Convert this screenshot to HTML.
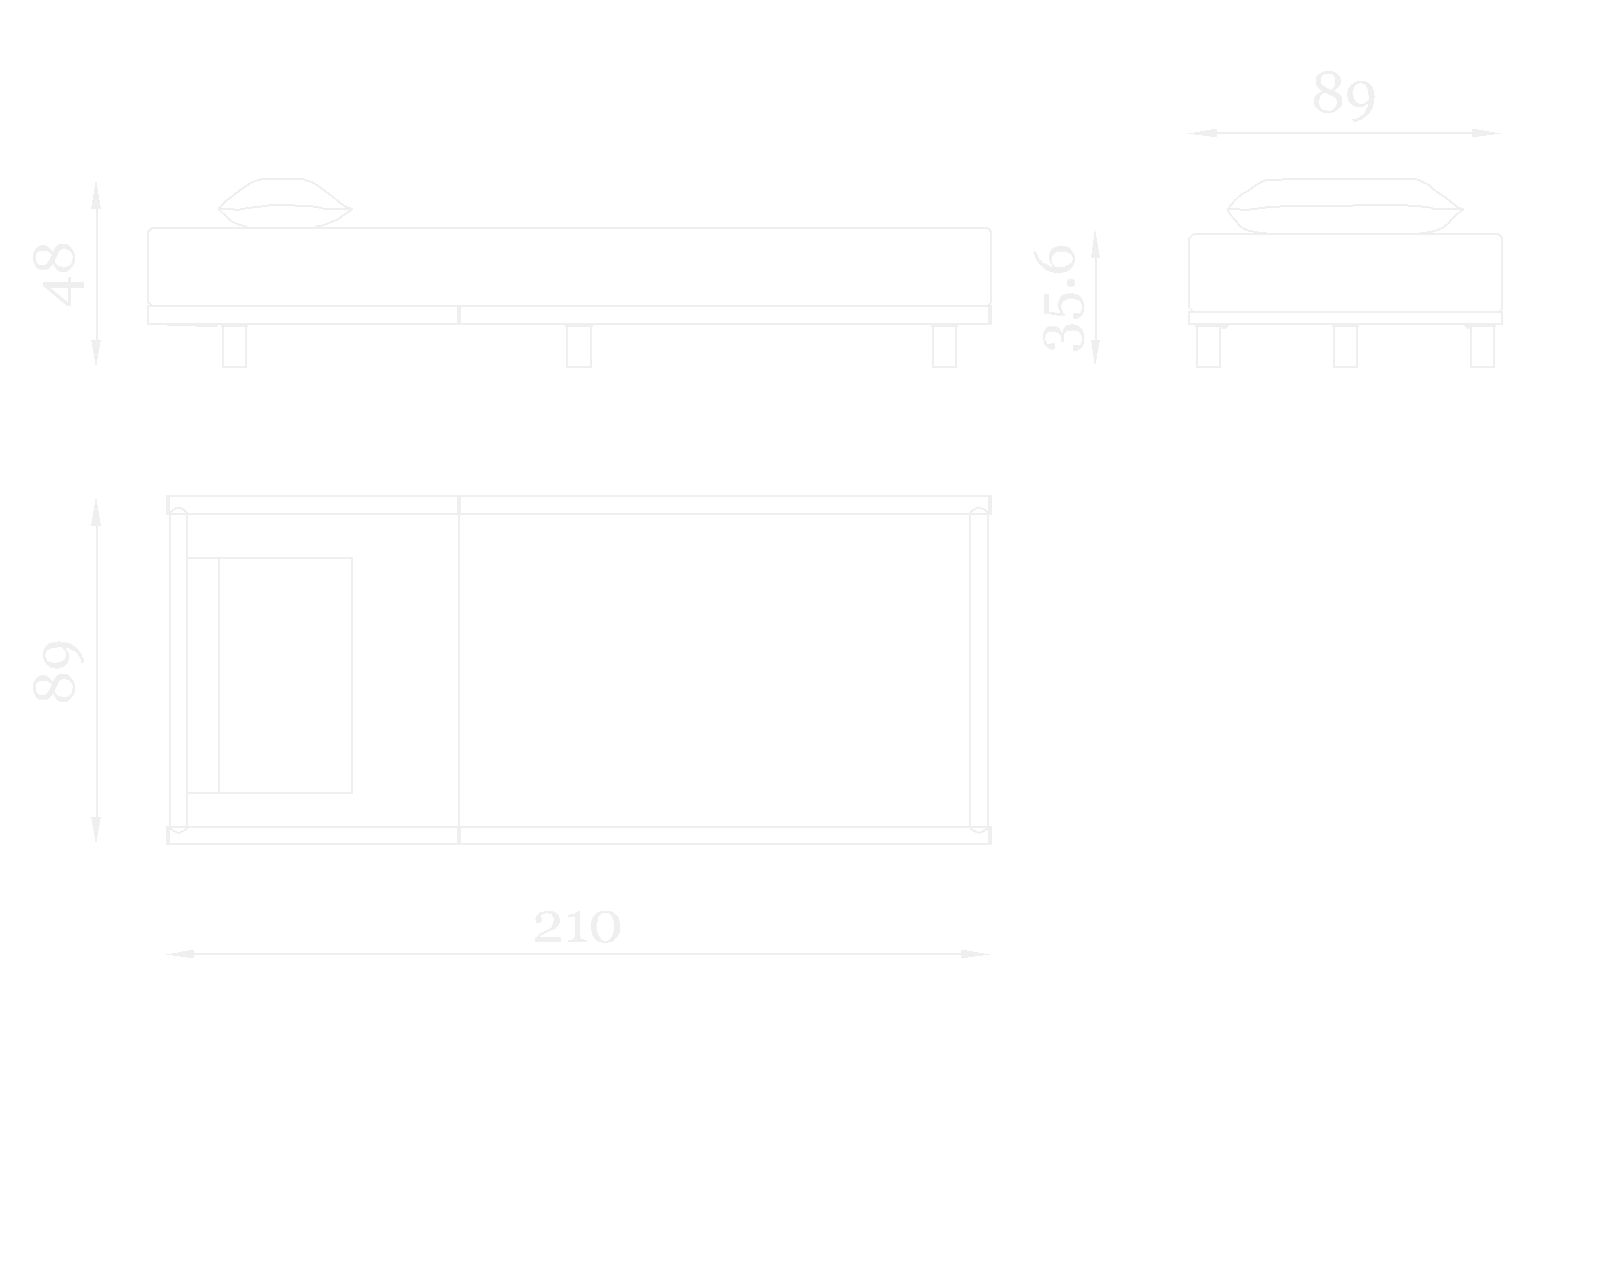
<!DOCTYPE html>
<html><head><meta charset="utf-8"><title>Bed dimensions</title>
<style>
html,body{margin:0;padding:0;background:#ffffff;}
body{width:1600px;height:1280px;overflow:hidden;font-family:"Liberation Serif",serif;}
svg{display:block;position:absolute;left:0;top:0;}
</style></head><body>
<svg width="1600" height="1280" viewBox="0 0 1600 1280">
<g fill="none" stroke="#efefef" stroke-width="2" stroke-linejoin="round" stroke-linecap="butt" shape-rendering="crispEdges">
<path d="M152 228 H985 Q991 228 991 234 V300 Q991 306 985 306 H152 L148 302 V232 Z" stroke-width="2" />
<path d="M147 305H992V307H147ZM147 323H992V325H147ZM147 305H149V325H147ZM988 305H992V325H988ZM457 305H461V325H457ZM167 325H218V326H167ZM196 326H217V327H196ZM221 325H248V327H221ZM222 327H224V368H222ZM245 327H247V368H245ZM224 366H245V368H224ZM565 325H593V327H565ZM566 327H568V368H566ZM590 327H592V368H590ZM568 366H590V368H568ZM931 325H958V327H931ZM932 327H934V368H932ZM955 327H957V368H955ZM934 366H955V368H934Z" fill="#efefef" stroke="none"/>
<path d="M218.27 208.88 C218.77 208.44 220.05 207.43 221.25 206.22 C222.45 205.02 223.73 203.25 225.50 201.66 C227.27 200.06 229.75 198.34 231.87 196.66 C234.00 194.98 235.95 193.30 238.25 191.56 C240.55 189.83 243.21 187.84 245.69 186.25 C248.17 184.66 250.82 183.06 253.12 182.00 C255.43 180.94 257.55 180.37 259.50 179.87 C261.45 179.38 258.17 179.17 264.81 179.02 C271.45 178.88 292.44 178.79 299.34 179.02 C306.25 179.25 304.03 179.82 306.25 180.41 C308.46 180.99 310.85 181.77 312.62 182.53 C314.39 183.29 315.28 183.91 316.87 184.97 C318.47 186.04 320.41 187.60 322.18 188.91 C323.96 190.22 325.73 191.51 327.50 192.84 C329.27 194.16 331.04 195.49 332.81 196.87 C334.58 198.26 336.53 199.85 338.12 201.12 C339.72 202.40 340.95 203.55 342.37 204.52 C343.79 205.50 344.89 206.21 346.62 206.97 C348.36 207.73 351.76 208.74 352.78 209.09" stroke-width="2" />
<path d="M218.27 208.88 C218.77 209.36 220.05 210.60 221.25 211.75 C222.45 212.90 223.91 214.28 225.50 215.79 C227.09 217.29 229.04 219.50 230.81 220.78 C232.58 222.05 233.64 222.46 236.12 223.44 C238.60 224.41 242.68 225.88 245.69 226.62 C248.70 227.37 243.74 227.69 254.19 227.90 C264.63 228.11 297.92 228.11 308.37 227.90 C318.82 227.69 314.04 227.19 316.87 226.62 C319.71 226.06 322.72 225.38 325.37 224.50 C328.03 223.61 330.86 222.11 332.81 221.31 C334.76 220.51 335.47 220.60 337.06 219.72 C338.65 218.83 340.42 217.33 342.37 216.00 C344.32 214.67 347.01 212.90 348.75 211.75 C350.48 210.60 352.11 209.54 352.78 209.09" stroke-width="2" />
<path d="M218.27 208.88 C220.01 208.95 225.36 209.18 228.69 209.31 C232.02 209.43 235.95 209.66 238.25 209.62 C240.55 209.59 240.91 209.36 242.50 209.09 C244.09 208.83 245.33 208.38 247.81 208.03 C250.29 207.68 254.36 207.32 257.37 206.97 C260.38 206.61 263.39 206.24 265.87 205.91 C268.35 205.57 268.35 205.11 272.25 204.95 C276.14 204.79 285.35 204.84 289.25 204.95 C293.14 205.06 292.61 205.41 295.62 205.59 C298.63 205.76 303.77 205.78 307.31 206.01 C310.85 206.24 314.22 206.54 316.87 206.97 C319.53 207.39 320.59 208.24 323.25 208.56 C325.90 208.88 327.89 208.79 332.81 208.88 C337.73 208.97 349.45 209.06 352.78 209.09" stroke-width="2" />
<path d="M1193.5 234 H1496 Q1502 234 1502 240 V306 Q1502 312 1496 312 H1193.5 L1189 307.5 V238.5 Z" stroke-width="2" />
<path d="M1188 311H1503V313H1188ZM1188 323H1503V325H1188ZM1188 313H1190V323H1188ZM1501 313H1503V323H1501ZM1195 325H1222V327H1195ZM1196 327H1198V368H1196ZM1219 327H1221V368H1219ZM1198 366H1219V368H1198ZM1332 325H1359V327H1332ZM1333 327H1335V368H1333ZM1356 327H1358V368H1356ZM1335 366H1356V368H1335ZM1469 325H1496V327H1469ZM1470 327H1472V368H1470ZM1493 327H1495V368H1493ZM1472 366H1493V368H1472Z" fill="#efefef" stroke="none"/>
<path d="M1222 325 H1229 L1225 329 H1222 Z" fill="#efefef" stroke="none"/>
<path d="M1463 325 H1470 V329 H1467 Z" fill="#efefef" stroke="none"/>
<path d="M1227.72 209.00 C1228.19 208.46 1229.48 207.04 1230.56 205.75 C1231.65 204.46 1233.14 202.50 1234.22 201.28 C1235.30 200.06 1235.84 199.59 1237.06 198.44 C1238.28 197.29 1239.91 195.53 1241.53 194.37 C1243.16 193.22 1245.39 192.34 1246.81 191.53 C1248.23 190.72 1248.91 190.31 1250.06 189.50 C1251.21 188.69 1252.50 187.54 1253.72 186.66 C1254.94 185.78 1256.22 184.90 1257.37 184.22 C1258.53 183.54 1259.47 183.18 1260.62 182.59 C1261.77 182.01 1262.66 181.20 1264.28 180.72 C1265.91 180.25 1267.46 179.95 1270.37 179.75 C1273.29 179.55 1278.23 179.67 1281.75 179.51 C1285.27 179.34 1289.87 178.90 1291.50 178.77 L1410.69 178.77 C1411.97 178.94 1416.64 179.32 1418.40 179.75 C1420.16 180.18 1420.23 180.83 1421.25 181.37 C1422.26 181.92 1423.35 182.46 1424.50 183.00 C1425.65 183.54 1426.94 183.81 1428.15 184.62 C1429.37 185.44 1430.52 186.76 1431.81 187.87 C1433.10 188.98 1434.38 190.20 1435.87 191.29 C1437.36 192.37 1439.12 193.32 1440.75 194.37 C1442.37 195.43 1444.13 196.54 1445.62 197.62 C1447.11 198.71 1448.33 199.79 1449.68 200.87 C1451.04 201.96 1452.39 203.04 1453.75 204.12 C1455.10 205.21 1456.18 206.49 1457.81 207.37 C1459.43 208.25 1462.55 209.07 1463.50 209.41" stroke-width="2" />
<path d="M1227.72 209.00 C1227.92 209.54 1228.19 210.96 1228.94 212.25 C1229.68 213.54 1230.97 215.23 1232.19 216.72 C1233.41 218.21 1235.03 219.70 1236.25 221.19 C1237.47 222.68 1238.42 224.50 1239.50 225.65 C1240.58 226.81 1241.53 227.35 1242.75 228.09 C1243.97 228.84 1245.19 229.58 1246.81 230.12 C1248.44 230.67 1250.47 230.92 1252.50 231.34 C1254.53 231.76 1256.83 232.30 1259.00 232.64 C1261.17 232.98 1263.20 233.14 1265.50 233.37 C1267.80 233.60 1271.59 233.92 1272.81 234.02 L1417.19 234.02 C1417.86 233.92 1419.89 233.59 1421.25 233.37 C1422.60 233.16 1423.69 232.97 1425.31 232.72 C1426.94 232.48 1429.24 232.28 1431.00 231.91 C1432.76 231.55 1434.38 231.03 1435.87 230.53 C1437.36 230.03 1438.58 229.51 1439.94 228.90 C1441.29 228.30 1442.51 227.89 1444.00 226.87 C1445.49 225.86 1447.79 223.89 1448.87 222.81 C1449.96 221.73 1449.41 221.52 1450.50 220.37 C1451.58 219.22 1453.88 217.26 1455.37 215.91 C1456.86 214.55 1458.08 213.33 1459.43 212.25 C1460.79 211.17 1462.82 209.88 1463.50 209.41" stroke-width="2" />
<path d="M1227.72 209.00 C1229.41 209.05 1235.10 209.16 1237.87 209.32 C1240.65 209.49 1242.14 209.97 1244.37 209.97 C1246.61 209.97 1249.05 209.57 1251.28 209.32 C1253.51 209.08 1255.48 208.81 1257.78 208.51 C1260.08 208.21 1261.91 207.83 1265.09 207.54 C1268.27 207.24 1272.81 206.99 1276.87 206.72 C1280.94 206.45 1287.37 206.05 1289.47 205.91 L1349.75 205.75 C1352.19 205.63 1355.91 205.14 1364.37 205.02 C1372.84 204.90 1392.95 204.90 1400.53 205.02 C1408.11 205.14 1406.89 205.57 1409.87 205.75 C1412.85 205.93 1415.97 205.87 1418.40 206.07 C1420.84 206.28 1422.67 206.75 1424.50 206.97 C1426.33 207.18 1427.75 207.06 1429.37 207.37 C1431.00 207.69 1431.54 208.55 1434.25 208.84 C1436.96 209.12 1440.75 208.99 1445.62 209.08 C1450.50 209.18 1460.52 209.35 1463.50 209.41" stroke-width="2" />
<path d="M166 495H992V497H166ZM166 513H992V515H166ZM166 497H170V513H166ZM988 497H992V513H988ZM457 497H461V513H457ZM166 826H992V828H166ZM166 843H992V845H166ZM166 828H170V843H166ZM988 828H992V843H988ZM457 828H461V843H457ZM458 515H460V826H458ZM169 515H171V826H169ZM186 515H188V826H186ZM969 515H971V826H969ZM987 515H989V826H987ZM188 557H353V559H188ZM188 792H353V794H188ZM351 559H353V792H351ZM218 559H220V792H218Z" fill="#efefef" stroke="none"/>
<path d="M170 514.5 C171 510.5 175 508 178.5 508 C182 508 186.5 510.5 187.5 514.5" stroke-width="2" />
<path d="M170 827.5 C172 830.5 175.5 832 178.5 833 C181.5 832 185 830.5 187.5 827.5" stroke-width="2" />
<path d="M970 514.5 C971 510.5 975 508 979 508 C983 508 987 510.5 988 514.5" stroke-width="2" />
<path d="M970 827.5 C972 830.5 976 832 979 833 C982 832 986 830.5 988 827.5" stroke-width="2" />
<path d="M95 182H97V188H95ZM94 188H98V194H94ZM93 194H99V200H93ZM92 200H100V206H92ZM91 206H101V209H91ZM96 209H98V340H96ZM91 340H101V342H91ZM92 342H100V348H92ZM93 348H99V353H93ZM94 353H98V359H94ZM95 359H97V365H95ZM95 499H97V505H95ZM94 505H98V511H94ZM93 511H99V517H93ZM92 517H100V523H92ZM91 523H101V526H91ZM96 526H98V817H96ZM91 817H101V819H91ZM92 819H100V825H92ZM93 825H99V830H93ZM94 830H98V836H94ZM95 836H97V842H95ZM1095 231H1096V232H1095ZM1094 232H1096V237H1094ZM1094 237H1097V239H1094ZM1093 239H1097V243H1093ZM1093 243H1098V247H1093ZM1092 247H1098V249H1092ZM1092 249H1099V254H1092ZM1091 254H1099V255H1091ZM1091 255H1100V258H1091ZM1095 258H1097V340H1095ZM1091 340H1100V342H1091ZM1091 342H1099V343H1091ZM1092 343H1099V348H1092ZM1092 348H1098V350H1092ZM1093 350H1098V353H1093ZM1093 353H1097V357H1093ZM1094 357H1097V359H1094ZM1094 359H1096V363H1094ZM1095 363H1096V364H1095ZM1211 129H1217V130H1211ZM1472 129H1478V130H1472ZM1205 130H1217V131H1205ZM1472 130H1484V131H1472ZM1200 131H1217V132H1200ZM1472 131H1489V132H1472ZM1194 132H1217V133H1194ZM1472 132H1495V133H1472ZM1188 133H1217V134H1188ZM1472 133H1501V134H1472ZM1195 134H1217V135H1195ZM1472 134H1494V135H1472ZM1203 135H1217V136H1203ZM1472 135H1486V136H1472ZM1210 136H1217V137H1210ZM1472 136H1479V137H1472ZM1217 132H1472V134H1217ZM188 950H194V951H188ZM961 950H967V951H961ZM182 951H194V952H182ZM961 951H973V952H961ZM178 952H194V953H178ZM961 952H978V953H961ZM172 953H194V954H172ZM961 953H984V954H961ZM166 954H194V955H166ZM961 954H990V955H961ZM173 955H194V956H173ZM961 955H983V956H961ZM180 956H194V957H180ZM961 956H975V957H961ZM187 957H194V958H187ZM961 957H968V958H961ZM194 953H961V955H194Z" fill="#efefef" stroke="none"/>
</g>
<g fill="#efefef" fill-rule="evenodd" stroke="none">
<path d="M1325.19 71.00 L1331.83 71.00 L1334.95 72.25 L1337.30 73.81 L1339.84 76.55 L1341.01 79.48 L1341.01 82.80 L1339.84 85.53 L1337.69 87.68 L1335.34 89.83 L1333.78 90.41 L1336.12 91.98 L1338.86 93.54 L1340.81 95.49 L1341.98 97.45 L1341.98 104.67 L1340.81 106.82 L1338.86 108.58 L1336.91 110.14 L1334.56 111.90 L1331.05 113.07 L1324.02 113.07 L1321.28 111.70 L1319.33 110.53 L1317.18 108.58 L1315.03 106.43 L1313.86 104.67 L1313.86 98.42 L1315.23 96.08 L1316.98 94.32 L1318.74 92.95 L1320.89 91.86 L1323.04 91.39 L1321.28 90.80 L1319.33 89.05 L1317.38 86.90 L1316.01 84.75 L1316.01 77.33 L1318.16 74.40 L1322.06 72.25 Z M1324.41 74.01 L1333.00 74.01 L1333.00 75.38 L1334.95 77.33 L1334.95 85.53 L1333.78 87.09 L1331.44 90.02 L1329.09 88.66 L1326.36 87.88 L1324.41 86.12 L1322.06 84.75 L1320.89 82.80 L1320.89 77.33 L1322.45 75.77 Z M1323.43 92.95 L1326.36 92.95 L1327.53 93.93 L1329.88 95.10 L1332.22 96.27 L1334.95 97.25 L1335.93 99.20 L1337.10 101.16 L1337.10 103.50 L1335.93 105.45 L1335.93 106.62 L1333.00 109.55 L1329.88 110.92 L1327.92 110.92 L1326.75 110.14 L1322.84 109.75 L1320.89 108.19 L1319.72 105.84 L1318.74 103.11 L1318.74 100.38 L1319.72 99.59 L1319.72 96.47 L1321.28 94.91 Z"/>
<path d="M1357.23 81.00 L1363.88 81.00 L1367.00 82.05 L1369.34 83.42 L1371.10 85.18 L1373.05 87.52 L1373.05 89.67 L1374.03 90.45 L1374.03 95.53 L1375.20 96.31 L1375.20 97.68 L1374.03 98.46 L1374.03 103.73 L1373.05 104.52 L1373.05 107.25 L1372.08 108.42 L1372.08 109.59 L1370.12 111.35 L1370.12 112.52 L1365.83 116.62 L1364.66 117.02 L1361.53 119.95 L1359.19 119.95 L1358.41 120.92 L1357.04 120.92 L1357.04 121.90 L1353.13 121.90 L1353.13 120.14 L1351.96 119.75 L1351.96 118.97 L1356.84 118.97 L1356.84 117.99 L1359.19 117.41 L1360.36 116.04 L1361.53 115.84 L1364.66 112.91 L1365.05 111.16 L1365.83 110.38 L1366.22 108.81 L1367.78 106.86 L1367.98 104.12 L1366.61 103.93 L1364.66 106.08 L1363.09 106.08 L1362.70 107.05 L1355.28 107.05 L1355.09 106.08 L1353.33 106.08 L1349.03 101.78 L1349.03 100.61 L1347.86 99.44 L1347.86 97.09 L1346.88 96.70 L1346.88 93.19 L1347.86 92.80 L1347.86 88.50 L1350.98 85.38 L1350.98 84.20 L1353.33 83.81 L1354.30 82.05 L1357.04 81.86 Z M1359.19 83.03 L1361.92 83.03 L1362.31 84.01 L1364.66 84.01 L1366.02 85.38 L1366.02 86.94 L1367.00 87.33 L1367.00 88.89 L1367.98 89.28 L1367.98 94.75 L1368.95 95.14 L1368.95 99.63 L1364.66 102.95 L1363.88 103.93 L1359.19 103.93 L1358.80 102.95 L1357.04 102.95 L1354.89 100.61 L1354.89 99.44 L1353.72 98.46 L1353.72 95.14 L1352.74 94.75 L1352.74 90.84 L1353.72 90.45 L1353.72 87.33 L1354.89 86.55 L1354.89 85.18 L1356.84 84.79 L1357.23 84.01 L1358.80 83.81 Z"/>
<path d="M544.09 911.04 L551.99 911.04 L554.74 912.08 L557.15 913.97 L559.04 915.00 L559.04 917.75 L560.07 918.43 L560.07 922.90 L559.04 923.24 L559.04 924.62 L555.95 927.71 L555.95 928.74 L554.05 929.09 L553.71 929.95 L550.96 930.12 L550.62 930.98 L548.90 931.15 L548.56 932.01 L546.84 932.18 L546.49 933.04 L544.78 933.21 L544.43 933.90 L542.71 934.24 L542.20 935.10 L540.65 935.27 L539.79 936.99 L560.93 936.99 L560.93 941.97 L535.09 941.97 L535.09 936.99 L536.87 936.99 L539.97 933.21 L541.68 933.04 L542.03 932.01 L543.75 932.01 L544.09 930.98 L545.81 930.98 L546.15 929.95 L547.87 929.95 L548.21 928.91 L549.76 928.91 L550.27 927.71 L551.65 927.71 L551.99 924.96 L552.85 924.62 L552.85 921.87 L553.88 921.53 L553.88 918.09 L552.85 917.75 L552.85 916.03 L551.99 915.68 L551.99 913.97 L548.90 913.97 L548.73 913.11 L545.12 913.11 L544.78 913.97 L542.03 914.14 L540.82 915.17 L540.82 916.89 L541.86 917.23 L541.86 921.87 L540.31 922.04 L539.79 922.90 L536.01 922.90 L536.01 919.98 L534.98 919.81 L534.98 919.12 L536.01 918.78 L536.01 916.20 L539.97 912.25 L543.75 911.97 Z"/>
<path d="M578.21 911.04 L580.10 911.04 L580.10 936.47 L580.96 936.99 L580.96 938.88 L584.05 939.05 L584.05 940.08 L586.98 940.08 L586.98 941.97 L567.90 941.97 L567.90 940.08 L572.03 939.91 L572.03 939.05 L573.92 938.88 L574.09 937.85 L574.95 936.99 L574.95 917.06 L567.90 917.06 L567.90 915.00 L569.97 915.00 L570.14 913.97 L574.78 913.97 L575.12 913.11 L576.15 912.08 L577.87 911.97 Z"/>
<path d="M601.15 911.04 L609.91 911.04 L612.84 912.08 L614.90 913.97 L616.96 915.17 L619.02 918.09 L619.02 920.84 L620.05 921.18 L620.05 932.52 L619.02 933.90 L617.99 936.13 L614.90 939.05 L613.52 940.94 L611.46 941.97 L608.02 942.14 L607.68 943.00 L602.18 943.00 L601.84 941.97 L599.09 941.97 L597.03 940.94 L592.90 936.47 L592.04 934.58 L591.87 931.15 L591.01 930.80 L591.01 921.18 L592.04 920.84 L592.04 919.12 L593.08 917.06 L594.97 915.17 L595.31 913.97 L598.06 912.08 Z M602.18 913.11 L608.71 913.11 L611.80 916.03 L611.98 917.92 L613.01 918.09 L613.01 920.84 L614.04 921.18 L614.04 931.49 L613.01 932.01 L613.01 934.93 L611.98 935.27 L611.80 937.16 L610.09 938.02 L609.74 939.91 L608.02 940.08 L607.68 941.11 L603.21 941.11 L602.87 940.08 L600.98 939.91 L600.81 938.02 L599.09 936.30 L598.92 935.27 L597.89 934.24 L597.89 932.18 L596.86 931.49 L596.86 922.21 L597.89 921.87 L598.06 917.06 L601.15 914.14 Z"/>
<path d="M33.00 260.72 L33.00 254.11 L34.25 251.00 L35.81 248.67 L38.54 246.14 L41.46 244.97 L44.78 244.97 L47.51 246.14 L49.65 248.28 L51.80 250.61 L52.38 252.17 L53.94 249.83 L55.50 247.11 L57.45 245.17 L59.40 244.00 L66.62 244.00 L68.76 245.17 L70.52 247.11 L72.08 249.06 L73.83 251.39 L75.00 254.89 L75.00 261.89 L73.64 264.61 L72.47 266.56 L70.52 268.69 L68.37 270.83 L66.62 272.00 L60.38 272.00 L58.04 270.64 L56.28 268.89 L54.92 267.14 L53.82 265.00 L53.36 262.86 L52.77 264.61 L51.02 266.56 L48.87 268.50 L46.73 269.86 L39.32 269.86 L36.39 267.72 L34.25 263.83 Z M36.00 261.50 L36.00 252.94 L37.37 252.94 L39.32 251.00 L47.51 251.00 L49.07 252.17 L51.99 254.50 L50.63 256.83 L49.85 259.56 L48.09 261.50 L46.73 263.83 L44.78 265.00 L39.32 265.00 L37.76 263.44 Z M54.92 262.47 L54.92 259.56 L55.89 258.39 L57.06 256.06 L58.23 253.72 L59.21 251.00 L61.16 250.03 L63.11 248.86 L65.45 248.86 L67.40 250.03 L68.57 250.03 L71.49 252.94 L72.86 256.06 L72.86 258.00 L72.08 259.17 L71.69 263.06 L70.13 265.00 L67.79 266.17 L65.06 267.14 L62.33 267.14 L61.55 266.17 L58.43 266.17 L56.87 264.61 Z"/>
<path d="M43.00 282.00 L68.00 282.00 L68.00 277.00 L71.00 277.00 L71.00 282.00 L84.00 282.00 L84.00 288.00 L71.00 288.00 L71.00 306.00 L67.06 306.00 L43.00 285.75 Z M50.50 288.00 L68.00 288.00 L68.00 302.31 Z"/>
<path d="M33.00 690.72 L33.00 684.11 L34.25 681.00 L35.81 678.67 L38.54 676.14 L41.46 674.97 L44.78 674.97 L47.51 676.14 L49.65 678.28 L51.80 680.61 L52.38 682.17 L53.94 679.83 L55.50 677.11 L57.45 675.17 L59.40 674.00 L66.62 674.00 L68.76 675.17 L70.52 677.11 L72.08 679.06 L73.83 681.39 L75.00 684.89 L75.00 691.89 L73.64 694.61 L72.47 696.56 L70.52 698.69 L68.37 700.83 L66.62 702.00 L60.38 702.00 L58.04 700.64 L56.28 698.89 L54.92 697.14 L53.82 695.00 L53.36 692.86 L52.77 694.61 L51.02 696.56 L48.87 698.50 L46.73 699.86 L39.32 699.86 L36.39 697.72 L34.25 693.83 Z M36.00 691.50 L36.00 682.94 L37.37 682.94 L39.32 681.00 L47.51 681.00 L49.07 682.17 L51.99 684.50 L50.63 686.83 L49.85 689.56 L48.09 691.50 L46.73 693.83 L44.78 695.00 L39.32 695.00 L37.76 693.44 Z M54.92 692.47 L54.92 689.56 L55.89 688.39 L57.06 686.06 L58.23 683.72 L59.21 681.00 L61.16 680.03 L63.11 678.86 L65.45 678.86 L67.40 680.03 L68.57 680.03 L71.49 682.94 L72.86 686.06 L72.86 688.00 L72.08 689.17 L71.69 693.06 L70.13 695.00 L67.79 696.17 L65.06 697.14 L62.33 697.14 L61.55 696.17 L58.43 696.17 L56.87 694.61 Z"/>
<path d="M43.00 658.61 L43.00 652.10 L44.06 649.04 L45.43 646.74 L47.19 645.02 L49.54 643.11 L51.69 643.11 L52.48 642.15 L57.57 642.15 L58.35 641.00 L59.72 641.00 L60.50 642.15 L65.79 642.15 L66.57 643.11 L69.32 643.11 L70.49 644.06 L71.66 644.06 L73.43 645.98 L74.60 645.98 L78.71 650.19 L79.11 651.33 L82.04 654.40 L82.04 656.69 L83.02 657.46 L83.02 658.80 L84.00 658.80 L84.00 662.63 L82.24 662.63 L81.85 663.77 L81.06 663.77 L81.06 658.99 L80.08 658.99 L79.50 656.69 L78.13 655.54 L77.93 654.40 L74.99 651.33 L73.23 650.95 L72.45 650.19 L70.88 649.80 L68.92 648.27 L66.18 648.08 L65.99 649.42 L68.14 651.33 L68.14 652.87 L69.12 653.25 L69.12 660.52 L68.14 660.71 L68.14 662.43 L63.83 666.64 L62.66 666.64 L61.48 667.79 L59.13 667.79 L58.74 668.75 L55.22 668.75 L54.83 667.79 L50.52 667.79 L47.39 664.73 L46.21 664.73 L45.82 662.43 L44.06 661.48 L43.86 658.80 Z M45.04 656.69 L45.04 654.01 L46.02 653.63 L46.02 651.33 L47.39 649.99 L48.95 649.99 L49.34 649.04 L50.91 649.04 L51.30 648.08 L56.78 648.08 L57.18 647.12 L61.68 647.12 L65.01 651.33 L65.99 652.10 L65.99 656.69 L65.01 657.08 L65.01 658.80 L62.66 660.90 L61.48 660.90 L60.50 662.05 L57.18 662.05 L56.78 663.01 L52.87 663.01 L52.48 662.05 L49.34 662.05 L48.56 660.90 L47.19 660.90 L46.80 658.99 L46.02 658.61 L45.82 657.08 Z"/>
<path d="M1043.00 333.31 L1044.09 331.44 L1045.19 329.25 L1047.06 327.22 L1049.09 326.19 L1055.97 326.19 L1058.00 327.22 L1060.03 329.25 L1060.97 331.12 L1062.06 332.38 L1063.00 331.75 L1063.00 329.41 L1065.19 326.75 L1066.12 325.34 L1070.03 325.03 L1070.19 324.09 L1073.94 324.09 L1074.25 325.03 L1077.06 325.34 L1078.94 326.28 L1083.00 330.34 L1083.00 332.53 L1083.94 333.31 L1083.94 343.62 L1083.00 345.19 L1082.06 347.38 L1079.88 349.25 L1078.00 350.03 L1078.00 350.97 L1074.09 350.97 L1073.00 349.88 L1073.00 345.03 L1078.94 345.03 L1080.03 345.81 L1081.12 342.69 L1082.06 341.12 L1082.06 336.44 L1080.97 335.19 L1079.88 332.38 L1078.31 331.75 L1077.69 330.66 L1067.22 330.66 L1065.50 332.38 L1063.94 334.56 L1063.94 341.75 L1060.97 341.75 L1060.97 336.12 L1059.88 335.03 L1058.78 333.00 L1056.12 332.53 L1055.50 331.75 L1049.09 331.75 L1047.06 333.00 L1045.81 334.25 L1045.81 336.44 L1044.72 337.38 L1044.72 339.56 L1045.81 340.50 L1046.91 343.00 L1047.38 343.94 L1050.81 343.94 L1051.12 343.00 L1053.94 343.00 L1055.03 344.09 L1055.03 348.94 L1053.00 349.09 L1052.69 350.03 L1050.97 350.03 L1050.50 348.94 L1048.94 348.78 L1047.06 347.22 L1045.19 345.50 L1043.94 343.62 L1043.94 341.12 L1043.00 340.19 Z"/>
<path d="M1044.00 294.00 L1049.00 294.00 L1049.00 311.94 L1055.03 312.09 L1055.03 312.88 L1060.03 312.88 L1060.03 310.69 L1058.94 310.38 L1058.94 307.88 L1058.00 307.56 L1058.00 302.41 L1058.94 301.94 L1058.94 299.44 L1060.03 299.12 L1060.19 297.25 L1062.06 295.22 L1064.09 294.19 L1067.06 293.97 L1067.22 293.19 L1073.94 293.19 L1074.25 294.19 L1077.06 294.28 L1078.94 295.22 L1082.06 298.34 L1082.06 299.44 L1083.00 300.38 L1083.00 301.94 L1083.94 302.25 L1083.94 311.62 L1083.00 313.19 L1082.06 315.38 L1079.88 317.25 L1078.00 318.03 L1078.00 318.97 L1074.09 318.97 L1073.00 317.88 L1073.00 314.12 L1074.09 313.03 L1078.94 313.03 L1080.03 313.81 L1081.12 310.69 L1082.06 309.12 L1082.06 304.44 L1080.97 303.19 L1079.88 301.62 L1078.31 299.75 L1075.19 299.75 L1074.88 298.66 L1067.22 298.66 L1066.75 299.75 L1064.25 300.69 L1062.06 302.25 L1061.91 304.75 L1060.97 305.06 L1060.97 307.88 L1061.91 308.50 L1062.06 310.69 L1063.00 311.00 L1063.00 312.88 L1065.03 314.12 L1065.03 315.84 L1057.06 315.84 L1056.75 314.91 L1051.12 314.91 L1050.81 313.81 L1044.00 313.81 Z"/>
<path d="M1033.00 251.13 L1036.01 251.13 L1036.20 253.09 L1037.18 253.67 L1038.16 256.80 L1039.13 257.58 L1039.13 259.14 L1040.89 259.92 L1042.06 261.29 L1042.06 262.85 L1044.02 263.05 L1045.97 264.02 L1047.92 265.00 L1049.88 265.98 L1050.27 266.95 L1051.83 266.95 L1052.41 265.20 L1050.27 263.44 L1050.07 261.09 L1049.09 260.51 L1049.09 253.28 L1050.27 251.72 L1051.05 249.38 L1053.98 247.23 L1057.10 247.03 L1057.30 246.05 L1065.89 246.05 L1066.09 247.03 L1069.02 247.23 L1070.97 249.38 L1071.75 250.94 L1072.92 252.11 L1074.09 253.48 L1074.09 255.04 L1075.07 255.43 L1075.07 261.48 L1074.09 261.88 L1074.09 264.22 L1072.92 265.00 L1072.92 266.56 L1069.02 270.47 L1067.06 271.25 L1066.87 272.03 L1063.16 272.03 L1062.77 273.01 L1053.39 273.01 L1053.00 272.03 L1049.29 272.03 L1049.09 271.05 L1047.14 270.86 L1045.19 269.49 L1042.06 265.98 L1040.11 265.00 L1038.94 263.44 L1036.98 261.29 L1036.01 259.14 L1035.03 257.19 L1034.84 255.23 L1033.86 254.45 L1033.86 252.11 Z M1056.91 251.72 L1066.09 251.72 L1067.06 252.50 L1069.02 253.09 L1070.97 254.45 L1071.95 255.62 L1072.14 257.19 L1073.12 257.58 L1073.12 259.53 L1072.14 260.31 L1071.95 262.46 L1069.02 264.02 L1068.04 265.00 L1065.11 265.98 L1064.91 266.95 L1054.95 266.95 L1053.98 265.00 L1053.00 264.02 L1051.83 262.66 L1051.83 257.19 L1053.00 255.43 L1053.98 254.06 L1055.34 253.09 Z"/>
<circle cx="1071" cy="282.9" r="4.1"/>
</g>
</svg>
</body></html>
